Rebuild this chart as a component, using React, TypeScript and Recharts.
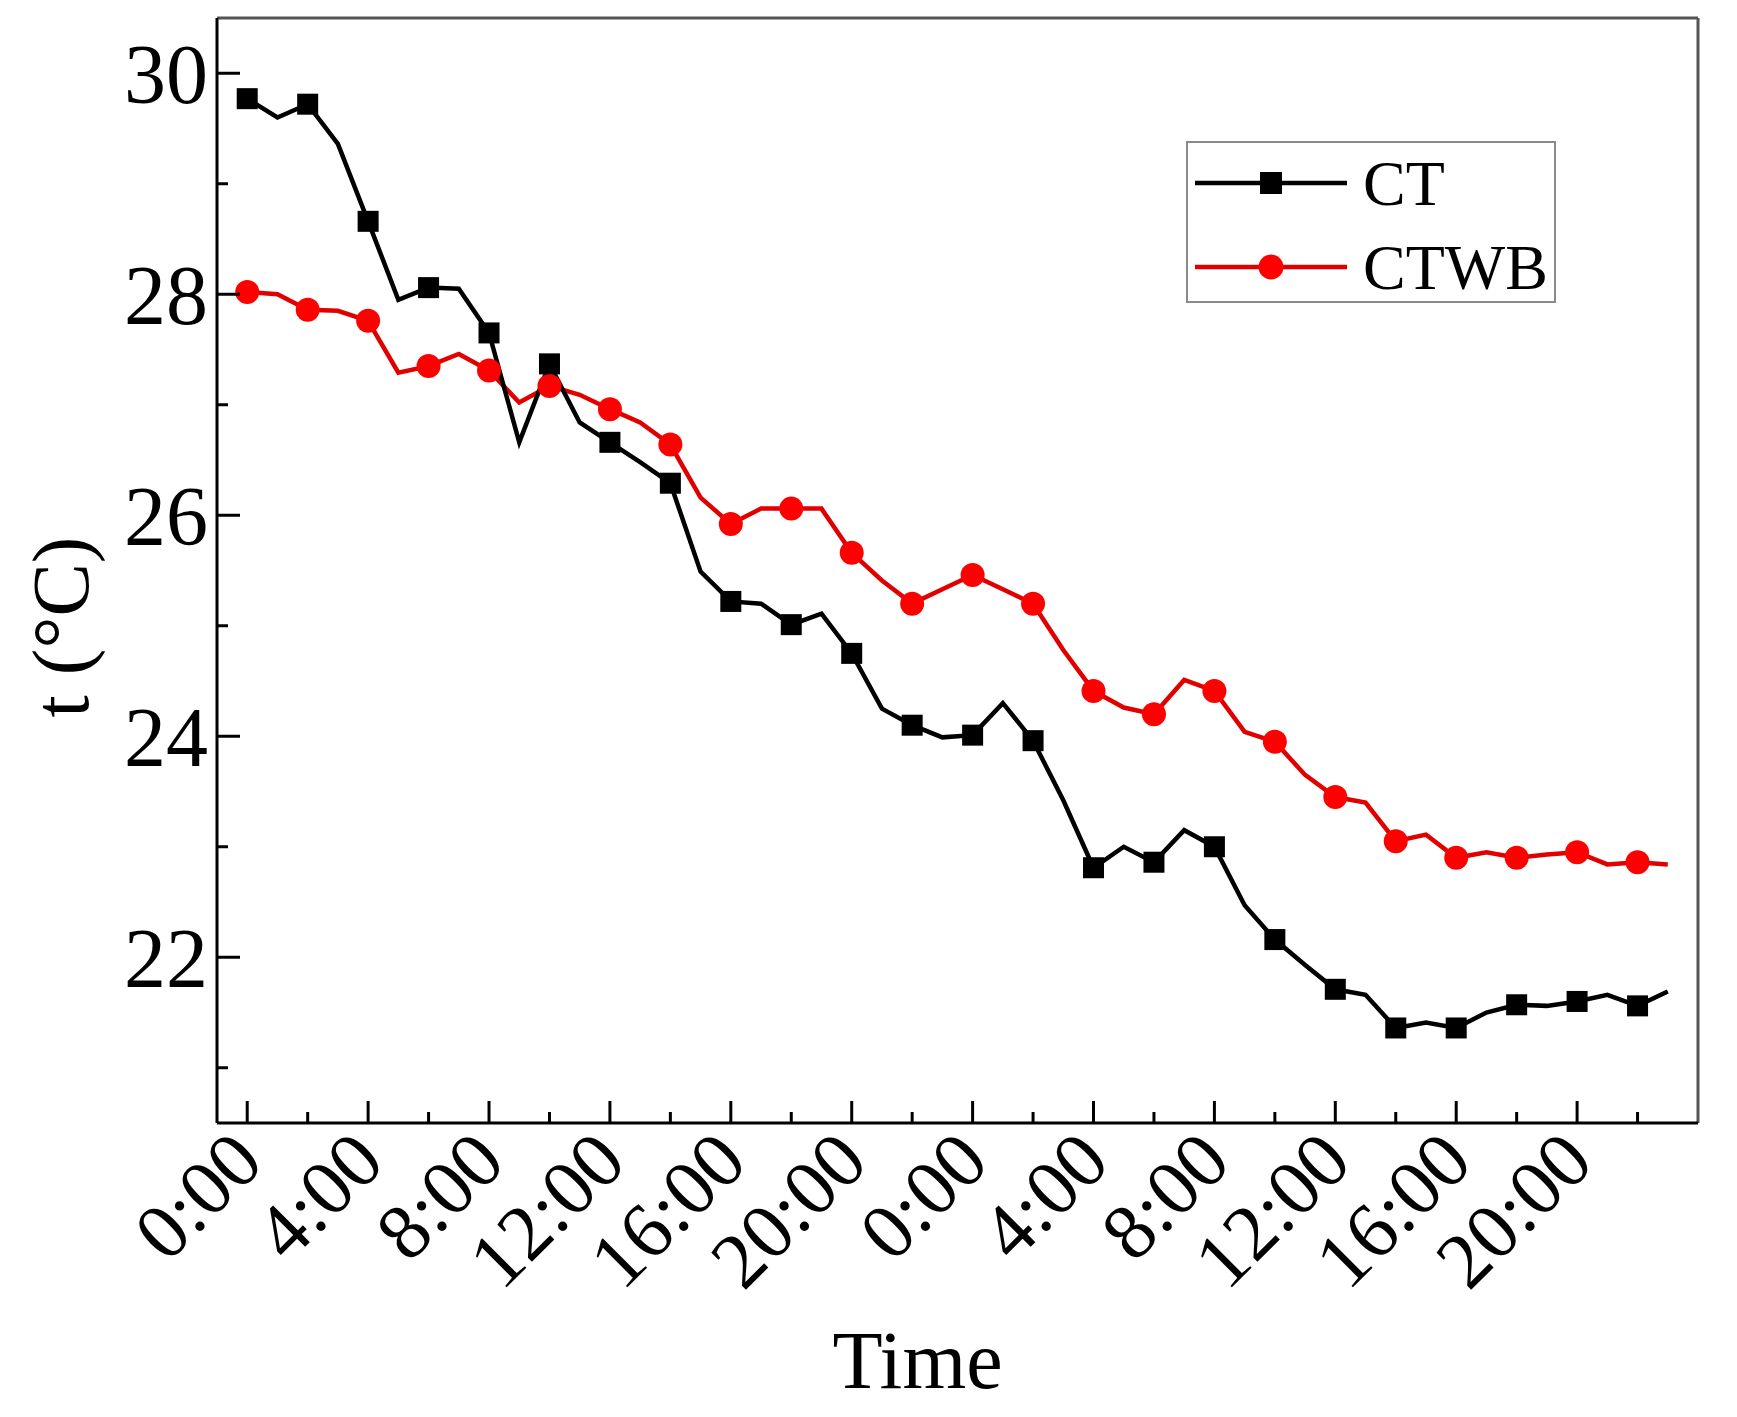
import { LineChart, Line, XAxis, YAxis, Legend, ReferenceLine } from "recharts";

// hourly readings over two days, markers drawn every 2 h
const HOURS = [
  0, 1, 2, 3, 4, 5, 6, 7, 8, 9, 10, 11, 12, 13, 14, 15, 16, 17, 18, 19, 20, 21, 22, 23,
  24, 25, 26, 27, 28, 29, 30, 31, 32, 33, 34, 35, 36, 37, 38, 39, 40, 41, 42, 43, 44, 45, 46, 47,
];
const CT = [
  29.77, 29.6, 29.72, 29.36, 28.66, 27.95, 28.06, 28.05, 27.65, 26.66, 27.37, 26.84,
  26.66, 26.48, 26.29, 25.49, 25.22, 25.2, 25.01, 25.11, 24.75, 24.25, 24.1, 23.99,
  24.01, 24.3, 23.96, 23.42, 22.81, 23.0, 22.86, 23.15, 23.0, 22.47, 22.16, 21.93,
  21.71, 21.66, 21.36, 21.41, 21.36, 21.5, 21.57, 21.56, 21.6, 21.66, 21.56, 21.69,
];
const CTWB = [
  28.02, 28.0, 27.86, 27.85, 27.76, 27.29, 27.35, 27.46, 27.31, 27.02, 27.17, 27.09,
  26.96, 26.84, 26.64, 26.16, 25.92, 26.06, 26.06, 26.06, 25.66, 25.41, 25.2, 25.33,
  25.46, 25.33, 25.2, 24.78, 24.41, 24.26, 24.2, 24.51, 24.41, 24.04, 23.95, 23.65,
  23.45, 23.4, 23.05, 23.11, 22.9, 22.95, 22.9, 22.93, 22.95, 22.84, 22.86, 22.84,
];

const X_TICKS = [0, 2, 4, 6, 8, 10, 12, 14, 16, 18, 20, 22, 24, 26, 28, 30, 32, 34, 36, 38, 40, 42, 44, 46];
const X_LABEL_HOURS = [0, 4, 8, 12, 16, 20, 24, 28, 32, 36, 40, 44];
const X_LABELS = ["0:00", "4:00", "8:00", "12:00", "16:00", "20:00", "0:00", "4:00", "8:00", "12:00", "16:00", "20:00"];
const Y_TICKS = [21, 22, 23, 24, 25, 26, 27, 28, 29, 30];
const Y_LABEL_VALUES = [22, 24, 26, 28, 30];

const SERIES_NAMES = { ct: "CT", ctwb: "CTWB" };
const LEGEND_ORDER = ["ct", "ctwb"];

const FONT = '"Liberation Serif", "Times New Roman", Times, serif';
const RED_LINE = "#e00000";
const RED_DOT = "#ff0000";

const data = HOURS.map((h, i) => ({ hour: h, ct: CT[i], ctwb: CTWB[i] }));

const XTick = (props: any) => {
  const { x, y, payload } = props;
  const idx = X_LABEL_HOURS.indexOf(payload.value);
  const major = idx >= 0;
  const tx = x + 19;
  const ty = y + 42;
  return (
    <g>
      <line x1={x} y1={y} x2={x} y2={y - (major ? 22 : 11)} stroke="#000" strokeWidth={3} />
      {major && (
        <text
          x={tx}
          y={ty}
          transform={`rotate(-45 ${tx} ${ty})`}
          textAnchor="end"
          fontFamily={FONT}
          fontSize={79}
          fill="#000"
        >
          {X_LABELS[idx]}
        </text>
      )}
    </g>
  );
};

const YTick = (props: any) => {
  const { x, y, payload } = props;
  const major = Y_LABEL_VALUES.includes(payload.value);
  return (
    <g>
      <line x1={x} y1={y} x2={x + (major ? 23 : 11)} y2={y} stroke="#000" strokeWidth={3} />
      {major && (
        <text x={x - 9} y={y} dy="0.35em" textAnchor="end" fontFamily={FONT} fontSize={84} fill="#000">
          {payload.value}
        </text>
      )}
    </g>
  );
};

const SquareDot = (props: any) => {
  const { cx, cy, index } = props;
  if (HOURS[index] % 2 !== 0) return <g key={`sq-${index}`} />;
  return <rect key={`sq-${index}`} x={cx - 10.5} y={cy - 10.5} width={21} height={21} fill="#000" />;
};

const CircleDot = (props: any) => {
  const { cx, cy, index } = props;
  if (HOURS[index] % 2 !== 0) return <g key={`ci-${index}`} />;
  return <circle key={`ci-${index}`} cx={cx} cy={cy} r={12} fill={RED_DOT} />;
};

const LegendBox = ({ payload }: any) => {
  const items = [...(payload || [])].sort(
    (a: any, b: any) => LEGEND_ORDER.indexOf(a.dataKey) - LEGEND_ORDER.indexOf(b.dataKey)
  );
  return (
    <svg width={370} height={162} style={{ display: "block" }}>
      <rect x={1} y={1} width={368} height={160} fill="#fff" stroke="#8a8a8a" strokeWidth={2} />
      {items.map((item: any, i: number) => {
        const cy = 42 + i * 84;
        return (
          <g key={item.dataKey}>
            <line x1={9} y1={cy} x2={161} y2={cy} stroke={item.color} strokeWidth={4.5} />
            {item.dataKey === "ct" ? (
              <rect x={74} y={cy - 11} width={22} height={22} fill="#000" />
            ) : (
              <circle cx={85} cy={cy} r={12.5} fill={RED_DOT} />
            )}
            <text x={177} y={cy + 22} fontFamily={FONT} fontSize={64} fill="#000">
              {item.value}
            </text>
          </g>
        );
      })}
    </svg>
  );
};

const XTitle = (props: any) => {
  const { viewBox } = props;
  const x = viewBox.x + viewBox.width / 2 - 40;
  const y = viewBox.y + 265;
  return (
    <text x={x} y={y} textAnchor="middle" fontFamily={FONT} fontSize={82} fill="#000">
      Time
    </text>
  );
};

const YTitle = () => (
  <text
    x={80}
    y={619}
    transform="rotate(-90 80 619)"
    textAnchor="middle"
    fontFamily={FONT}
    fontSize={80}
    fill="#000"
  >
    t (°C)
  </text>
);

const App = () => {
  return (
    <div style={{ width: 1720, height: 1400, background: "#fff" }}>
      <LineChart width={1720} height={1400} data={data} margin={{ top: 10, right: 30, bottom: 0, left: 0 }}>
        <XAxis
          dataKey="hour"
          type="number"
          domain={[-1, 48]}
          allowDataOverflow
          ticks={X_TICKS}
          interval={0}
          tick={<XTick />}
          tickLine={false}
          tickSize={0}
          tickMargin={0}
          height={285}
          axisLine={{ stroke: "#000", strokeWidth: 3 }}
          label={<XTitle />}
        />
        <YAxis
          type="number"
          domain={[20.5, 30.5]}
          allowDataOverflow
          ticks={Y_TICKS}
          interval={0}
          tick={<YTick />}
          tickLine={false}
          tickSize={0}
          tickMargin={0}
          width={209}
          axisLine={{ stroke: "#000", strokeWidth: 3 }}
          label={<YTitle />}
        />
        <ReferenceLine y={30.5} stroke="#555" strokeWidth={3} />
        <ReferenceLine x={48} stroke="#555" strokeWidth={3} />
        <Legend
          layout="horizontal"
          verticalAlign="middle"
          align="center"
          content={<LegendBox />}
          wrapperStyle={{ left: 1178, top: 133, width: 370, height: 162 }}
        />
        <Line
          dataKey="ctwb"
          name={SERIES_NAMES.ctwb}
          type="linear"
          stroke={RED_LINE}
          strokeWidth={4.5}
          dot={CircleDot}
          activeDot={false}
          isAnimationActive={false}
        />
        <Line
          dataKey="ct"
          name={SERIES_NAMES.ct}
          type="linear"
          stroke="#000"
          strokeWidth={4.5}
          dot={SquareDot}
          activeDot={false}
          isAnimationActive={false}
        />
      </LineChart>
    </div>
  );
};

export default App;
